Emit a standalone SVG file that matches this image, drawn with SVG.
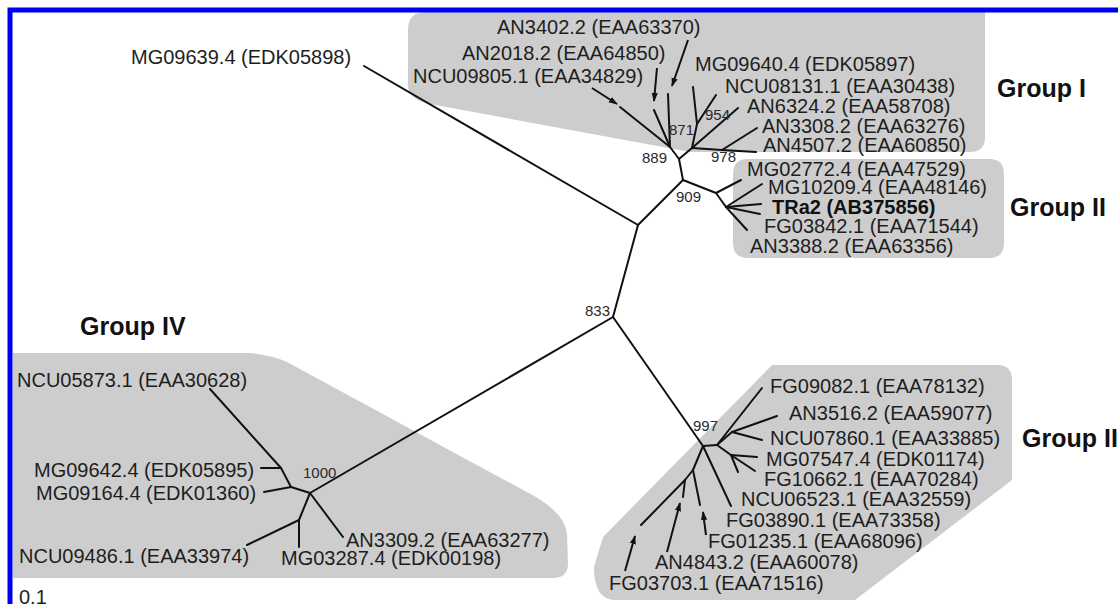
<svg xmlns="http://www.w3.org/2000/svg" width="1118" height="604" viewBox="0 0 1118 604">
<style>
.bg{fill:#cdcdcd;stroke:none}
.t{font-family:"Liberation Sans",Arial,sans-serif;font-size:20px;fill:#1e1e1e}
.tb{font-family:"Liberation Sans",Arial,sans-serif;font-size:20px;font-weight:bold;fill:#111}
.g{font-family:"Liberation Sans",Arial,sans-serif;font-size:25px;font-weight:bold;fill:#111}
.bs{font-family:"Liberation Sans",Arial,sans-serif;font-size:15px;fill:#2a2a2a}
.e{stroke:#111;stroke-width:2;fill:none;stroke-linecap:round;stroke-linejoin:round}
.a{stroke:#111;stroke-width:2;fill:none;marker-end:url(#ah)}
</style>
<defs>
<marker id="ah" viewBox="0 0 10 10" refX="9" refY="5" markerWidth="9" markerHeight="9" markerUnits="userSpaceOnUse" orient="auto"><path d="M0,1.5 L10,5 L0,8.5 z" fill="#111"/></marker>
</defs>
<rect x="0" y="0" width="1118" height="604" fill="#fff"/>

<g id="shapes">
<path class="bg" d="M408,30 Q408,12 426,12 L985,12 L985,137 Q985,152 970,152 L690,152 L430,104 Q408,100 408,85 Z"/>
<path class="bg" d="M733,174 Q733,159 748,159 L989,159 Q1004,159 1004,174 L1004,243 Q1004,258 989,258 L748,258 Q733,258 733,243 Z"/>
<path class="bg" d="M772,365 L997,365 Q1012,365 1012,380 L1012,480 L855,600 L613,600 Q594,598 594,567 L603,537 Z"/>
<path class="bg" d="M13,353 L249,353 Q272,355 287,362 L536,497 Q566,515 567,535 L568,563 Q568,578 553,578 L13,578 Z"/>
</g>

<g id="connectors">
<!-- backbone -->
<polyline class="e" points="613,317 638,225"/>
<polyline class="e" points="638,225 364,66"/>
<polyline class="e" points="638,225 683,180"/>
<polyline class="e" points="683,180 679,159"/>
<polyline class="e" points="613,317 310,493"/>
<polyline class="e" points="613,317 703,446"/>
<!-- group I -->
<polyline class="e" points="679,159 670,147"/>
<polyline class="e" points="670,147 620,107"/>
<polyline class="e" points="670,147 654,110"/>
<polyline class="e" points="670,147 668,94"/>
<polyline class="e" points="679,159 692,148"/>
<polyline class="e" points="692,148 697,124"/>
<polyline class="e" points="697,124 693,87"/>
<polyline class="e" points="697,124 716,95"/>
<polyline class="e" points="692,148 738,108"/>
<polyline class="e" points="692,148 722,150"/>
<polyline class="e" points="722,150 757,128"/>
<polyline class="e" points="722,150 756,152"/>
<line class="a" x1="592" y1="88" x2="617" y2="104"/>
<line class="a" x1="657" y1="68" x2="654" y2="101"/>
<line class="a" x1="688" y1="40" x2="672" y2="86"/>
<!-- group II -->
<polyline class="e" points="683,180 716,193"/>
<polyline class="e" points="716,193 741,180"/>
<polyline class="e" points="716,193 726,207"/>
<polyline class="e" points="726,207 762,184"/>
<polyline class="e" points="726,207 761,204"/>
<polyline class="e" points="726,207 760,214"/>
<polyline class="e" points="726,207 747,230"/>
<!-- group III -->
<polyline class="e" points="703,446 717,445"/>
<polyline class="e" points="717,445 762,388"/>
<polyline class="e" points="717,445 732,432"/>
<polyline class="e" points="732,432 777,416"/>
<polyline class="e" points="732,432 762,440"/>
<polyline class="e" points="717,445 731,455"/>
<polyline class="e" points="731,455 757,457"/>
<polyline class="e" points="731,455 755,471"/>
<polyline class="e" points="731,455 738,472"/>
<polyline class="e" points="703,446 731,506"/>
<polyline class="e" points="703,446 693,470"/>
<polyline class="e" points="693,470 700,505"/>
<polyline class="e" points="693,470 685,480"/>
<polyline class="e" points="685,480 683,497"/>
<polyline class="e" points="685,480 641,525"/>
<line class="a" x1="706" y1="535" x2="703" y2="512"/>
<line class="a" x1="667" y1="552" x2="680" y2="503"/>
<line class="a" x1="625" y1="571" x2="635" y2="536"/>
<!-- group IV -->
<polyline class="e" points="310,493 291,487"/>
<polyline class="e" points="291,487 281,468"/>
<polyline class="e" points="281,468 210,389"/>
<polyline class="e" points="281,468 261,468"/>
<polyline class="e" points="291,487 264,492"/>
<polyline class="e" points="310,493 343,537"/>
<polyline class="e" points="310,493 299,520"/>
<polyline class="e" points="299,520 299,547"/>
<polyline class="e" points="299,520 247,545"/>
</g>

<g id="n-MG09639.4"><text class="t" x="131" y="64">MG09639.4 (EDK05898)</text></g>

<g id="groupI">
<g id="n-AN3402.2"><text class="t" x="497" y="34">AN3402.2 (EAA63370)</text></g>
<g id="n-AN2018.2"><text class="t" x="462" y="60">AN2018.2 (EAA64850)</text></g>
<g id="n-NCU09805.1"><text class="t" x="413" y="83">NCU09805.1 (EAA34829)</text></g>
<g id="n-MG09640.4"><text class="t" x="695" y="71">MG09640.4 (EDK05897)</text></g>
<g id="n-NCU08131.1"><text class="t" x="725" y="93">NCU08131.1 (EAA30438)</text></g>
<g id="n-AN6324.2"><text class="t" x="747" y="113">AN6324.2 (EAA58708)</text></g>
<g id="n-AN3308.2"><text class="t" x="762" y="133">AN3308.2 (EAA63276)</text></g>
<g id="n-AN4507.2"><text class="t" x="763" y="152">AN4507.2 (EAA60850)</text></g>
<g id="lbl-groupI"><text class="g" x="997" y="97">Group I</text></g>
</g>

<g id="groupII">
<g id="n-MG02772.4"><text class="t" x="747" y="176">MG02772.4 (EAA47529)</text></g>
<g id="n-MG10209.4"><text class="t" x="768" y="194">MG10209.4 (EAA48146)</text></g>
<g id="n-TRa2"><text class="tb" x="772" y="214">TRa2 (AB375856)</text></g>
<g id="n-FG03842.1"><text class="t" x="764" y="233">FG03842.1 (EAA71544)</text></g>
<g id="n-AN3388.2"><text class="t" x="750" y="253">AN3388.2 (EAA63356)</text></g>
<g id="lbl-groupII"><text class="g" x="1010" y="216">Group II</text></g>
</g>

<g id="groupIII">
<g id="n-FG09082.1"><text class="t" x="770" y="393">FG09082.1 (EAA78132)</text></g>
<g id="n-AN3516.2"><text class="t" x="789" y="420">AN3516.2 (EAA59077)</text></g>
<g id="n-NCU07860.1"><text class="t" x="770" y="445">NCU07860.1 (EAA33885)</text></g>
<g id="n-MG07547.4"><text class="t" x="766" y="466">MG07547.4 (EDK01174)</text></g>
<g id="n-FG10662.1"><text class="t" x="764" y="486">FG10662.1 (EAA70284)</text></g>
<g id="n-NCU06523.1"><text class="t" x="741" y="506">NCU06523.1 (EAA32559)</text></g>
<g id="n-FG03890.1"><text class="t" x="726" y="527">FG03890.1 (EAA73358)</text></g>
<g id="n-FG01235.1"><text class="t" x="708" y="548">FG01235.1 (EAA68096)</text></g>
<g id="n-AN4843.2"><text class="t" x="655" y="569">AN4843.2 (EAA60078)</text></g>
<g id="n-FG03703.1"><text class="t" x="609" y="590">FG03703.1 (EAA71516)</text></g>
<g id="lbl-groupIII"><text class="g" x="1022" y="447">Group III</text></g>
</g>

<g id="groupIV">
<g id="n-NCU05873.1"><text class="t" x="17" y="387">NCU05873.1 (EAA30628)</text></g>
<g id="n-MG09642.4"><text class="t" x="34" y="477">MG09642.4 (EDK05895)</text></g>
<g id="n-MG09164.4"><text class="t" x="36" y="500">MG09164.4 (EDK01360)</text></g>
<g id="n-NCU09486.1"><text class="t" x="19" y="563">NCU09486.1 (EAA33974)</text></g>
<g id="n-MG03287.4"><text class="t" x="281" y="565">MG03287.4 (EDK00198)</text></g>
<g id="n-AN3309.2"><text class="t" x="346" y="547">AN3309.2 (EAA63277)</text></g>
<g id="lbl-groupIV"><text class="g" x="80" y="335">Group IV</text></g>
</g>

<g id="bootstrap">
<g id="b889"><text class="bs" x="642" y="163">889</text></g>
<g id="b871"><text class="bs" x="669" y="135">871</text></g>
<g id="b954"><text class="bs" x="705" y="120">954</text></g>
<g id="b978"><text class="bs" x="711" y="162">978</text></g>
<g id="b909"><text class="bs" x="676" y="202">909</text></g>
<g id="b833"><text class="bs" x="585" y="316">833</text></g>
<g id="b1000"><text class="bs" x="303" y="478">1000</text></g>
<g id="b997"><text class="bs" x="693" y="431">997</text></g>
</g>

<g id="scale"><text class="t" x="19" y="604">0.1</text></g>

<rect id="frame" x="10" y="10" width="1200" height="700" fill="none" stroke="#0000f0" stroke-width="5"/>
</svg>
